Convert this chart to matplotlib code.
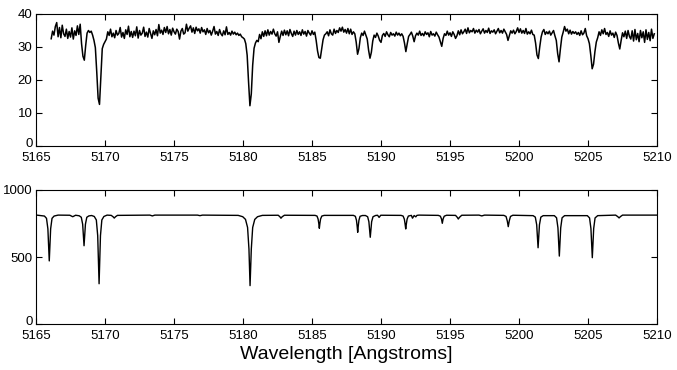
import numpy as np
import matplotlib
matplotlib.use("Agg")
import matplotlib.pyplot as plt
from matplotlib.transforms import ScaledTranslation

plt.rcParams['font.family'] = ['Liberation Sans', 'DejaVu Sans']

# ---- top panel: observed spectrum, sampled every 0.1 A from 5166.1 A ----
obs_start = 5166.1
obs_step = 0.1
obs_flux = [
    32.5, 34.8, 33.6, 36.2, 37.4, 33.1, 35.9, 32.8, 36.6, 34.0,   # 5166.1-5167.0
    33.2, 35.4, 32.6, 34.7, 33.0, 35.8, 32.4, 34.9, 33.5, 36.4,   # 5167.1-5168.0
    33.8, 36.9, 31.0, 27.2, 26.0, 30.5, 34.2, 35.0, 34.4, 34.8,   # 5168.1-5169.0
    33.6, 32.0, 29.8, 22.5, 14.5, 12.6, 21.0, 29.5, 30.8, 31.6,   # 5169.1-5170.0
    32.4, 34.6, 33.5, 35.4, 33.1, 34.2, 32.8, 35.0, 33.6, 34.1,   # 5170.1-5171.0
    35.9, 33.0, 34.4, 32.6, 35.2, 33.8, 36.3, 33.1, 34.7, 32.9,   # 5171.1-5172.0
    34.8, 33.4, 36.1, 32.7, 35.0, 33.6, 34.2, 36.0, 33.2, 34.5,   # 5172.1-5173.0
    33.0, 35.6, 34.1, 32.6, 34.9, 33.7, 35.3, 33.4, 36.8, 34.2,   # 5173.1-5174.0
    35.1, 33.8, 35.9, 34.4, 36.2, 34.0, 35.3, 33.6, 35.7, 34.6,   # 5174.1-5175.0
    33.9, 35.4, 34.7, 32.4, 34.8, 35.6, 33.9, 34.3, 36.9, 34.8,   # 5175.1-5176.0
    35.7, 36.4, 34.5, 35.8, 34.1, 36.0, 34.9, 35.5, 34.2, 35.9,   # 5176.1-5177.0
    34.6, 35.2, 33.8, 35.6, 34.3, 35.0, 33.6, 34.8, 36.2, 33.9,   # 5177.1-5178.0
    34.7, 33.5, 35.3, 34.0, 33.4, 34.9, 33.7, 36.1, 33.8, 34.4,   # 5178.1-5179.0
    33.6, 34.8, 33.9, 34.5, 33.7, 34.2, 33.5, 33.9, 33.1, 32.8,   # 5179.1-5180.0
    32.4, 31.0, 27.5, 19.5, 12.2, 15.8, 24.5, 29.6, 31.2, 32.0,   # 5180.1-5181.0
    31.6, 33.8, 32.5, 34.6, 33.2, 34.9, 33.4, 35.2, 33.6, 34.7,   # 5181.1-5182.0
    33.9, 35.4, 34.0, 33.3, 34.6, 31.4, 33.2, 34.8, 33.5, 35.1,   # 5182.1-5183.0
    33.7, 34.9, 33.4, 35.3, 34.1, 33.2, 34.8, 33.6, 35.0, 33.8,   # 5183.1-5184.0
    34.6, 33.5, 35.2, 33.9, 34.7, 33.3, 35.0, 34.2, 33.6, 34.9,   # 5184.1-5185.0
    33.8, 34.5, 32.0, 28.8, 26.8, 26.6, 29.5, 32.2, 33.6, 34.0,   # 5185.1-5186.0
    34.6, 33.4, 35.2, 34.0, 33.6, 35.4, 34.1, 35.0, 34.4, 35.8,   # 5186.1-5187.0
    34.8, 36.0, 34.5, 35.3, 34.2, 35.6, 34.0, 35.4, 33.8, 34.6,   # 5187.1-5188.0
    34.0, 31.5, 27.8, 29.5, 32.8, 34.2, 33.5, 34.8, 33.6, 32.4,   # 5188.1-5189.0
    29.0, 26.6, 28.4, 31.8, 33.6, 32.9, 34.2, 33.3, 32.0, 31.4,   # 5189.1-5190.0
    33.5, 34.1, 33.2, 34.6, 33.7, 33.1, 34.4, 33.6, 34.0, 33.3,   # 5190.1-5191.0
    34.5, 33.6, 34.2, 33.4, 34.0, 33.2, 31.2, 28.6, 31.0, 33.2,   # 5191.1-5192.0
    33.8, 34.5, 33.3, 31.6, 33.4, 34.2, 33.6, 34.8, 33.5, 34.1,   # 5192.1-5193.0
    33.4, 34.6, 33.8, 34.3, 33.1, 34.7, 33.6, 34.0, 33.3, 34.5,   # 5193.1-5194.0
    33.7, 33.0, 31.6, 30.2, 32.6, 34.0, 33.5, 34.8, 33.6, 34.3,   # 5194.1-5195.0
    33.2, 34.6, 33.8, 32.6, 33.4, 34.9, 33.7, 35.2, 34.0, 34.6,   # 5195.1-5196.0
    35.4, 34.1, 35.8, 34.3, 35.0, 34.6, 35.6, 34.2, 35.1, 34.5,   # 5196.1-5197.0
    35.3, 34.0, 34.8, 35.5, 34.2, 35.0, 34.4, 35.7, 34.1, 34.9,   # 5197.1-5198.0
    34.5, 35.2, 34.0, 34.8, 35.6, 34.3, 35.0, 34.2, 35.4, 34.6,   # 5198.1-5199.0
    33.8, 32.0, 33.5, 34.9, 34.2, 35.1, 34.0, 34.7, 35.8, 34.4,   # 5199.1-5200.0
    35.5, 34.2, 35.0, 34.1, 35.6, 33.9, 34.6, 34.0, 35.1, 33.8,   # 5200.1-5201.0
    33.6, 31.2, 27.6, 26.5, 30.0, 33.0, 34.6, 35.3, 33.8, 34.6,   # 5201.1-5202.0
    34.0, 34.8, 33.6, 34.3, 35.0, 33.4, 32.0, 28.0, 25.5, 29.5,   # 5202.1-5203.0
    33.0, 34.5, 36.2, 34.8, 35.4, 34.0, 35.1, 33.9, 34.7, 34.1,   # 5203.1-5204.0
    34.6, 33.8, 34.4, 33.5, 34.9, 33.7, 34.2, 35.6, 33.4, 32.5,   # 5204.1-5205.0
    31.0, 27.5, 23.4, 24.8, 28.6, 31.5, 32.8, 34.6, 33.5, 35.2,   # 5205.1-5206.0
    34.0, 35.6, 33.8, 34.4, 33.2, 34.9, 33.6, 34.2, 32.9, 34.5,   # 5206.1-5207.0
    33.5, 31.2, 29.4, 32.0, 34.3, 33.1, 34.8, 32.6, 35.0, 33.2,   # 5207.1-5208.0
    32.4, 34.9, 31.8, 35.3, 32.2, 34.1, 31.6, 35.0, 32.8, 34.6,   # 5208.1-5209.0
    31.4, 35.2, 32.3, 34.4, 31.9, 35.4, 32.6, 34.0,               # 5209.1-5209.8
]

# ---- bottom panel: model spectrum, key points (wavelength, flux) ----
model_wave = [
    5165.05, 5165.61, 5165.76, 5165.86, 5165.91, 5165.96, 5166.01, 5166.06, 5166.16, 5166.31,
    5166.60, 5167.45, 5167.66, 5167.87,
    5168.13, 5168.28, 5168.38, 5168.43, 5168.48, 5168.53, 5168.58, 5168.68, 5168.83,
    5169.03, 5169.22, 5169.37, 5169.47, 5169.52, 5169.57, 5169.62, 5169.67, 5169.77, 5169.92,
    5170.15, 5170.45, 5170.58, 5170.67, 5170.76, 5170.90,
    5173.25, 5173.43, 5173.61, 5176.70, 5176.88, 5177.06,
    5179.65, 5179.98, 5180.18, 5180.33, 5180.43, 5180.47, 5180.51, 5180.55, 5180.60, 5180.70,
    5180.85, 5181.05, 5181.40,
    5182.55, 5182.67, 5182.75, 5182.84, 5183.00,
    5185.22, 5185.36, 5185.44, 5185.49, 5185.53, 5185.57, 5185.62, 5185.71, 5185.88,
    5188.00, 5188.14, 5188.22, 5188.27, 5188.31, 5188.35, 5188.40, 5188.48, 5188.65,
    5188.87, 5189.03, 5189.12, 5189.17, 5189.22, 5189.27, 5189.32, 5189.42, 5189.60,
    5189.75, 5189.86, 5189.98,
    5191.45, 5191.60, 5191.69, 5191.74, 5191.79, 5191.84, 5191.89, 5191.98,
    5192.20, 5192.28, 5192.40, 5192.52, 5192.60, 5192.75,
    5194.15, 5194.30, 5194.38, 5194.44, 5194.50, 5194.58, 5194.75,
    5195.40, 5195.53, 5195.60, 5195.68, 5195.85,
    5197.10, 5197.30, 5197.50,
    5198.90, 5199.06, 5199.15, 5199.22, 5199.29, 5199.38, 5199.55,
    5201.02, 5201.18, 5201.28, 5201.33, 5201.38, 5201.43, 5201.48, 5201.58, 5201.75,
    5202.56, 5202.72, 5202.82, 5202.87, 5202.92, 5202.97, 5203.02, 5203.12, 5203.30,
    5204.95, 5205.11, 5205.21, 5205.26, 5205.31, 5205.36, 5205.41, 5205.51, 5205.70,
    5207.00, 5207.15, 5207.25, 5207.35, 5207.50,
    5210.00,
]
model_flux = [
    813, 806, 789, 711, 592, 472, 592, 711, 789, 806,
    813, 812, 801, 812,
    808, 797, 745, 665, 585, 665, 745, 797, 807,
    810, 803, 777, 660, 480, 302, 480, 660, 777, 803,
    813, 811, 801, 791, 801, 811,
    813, 807, 813, 813, 809, 813,
    811, 801, 781, 721, 560, 420, 288, 420, 560, 721,
    781, 801, 811,
    812, 801, 790, 801, 812,
    811, 806, 784, 751, 715, 751, 784, 806, 811,
    811, 804, 775, 731, 685, 731, 775, 804, 810,
    810, 801, 764, 706, 648, 706, 764, 801, 810,
    812, 796, 812,
    811, 806, 783, 750, 710, 750, 783, 806,
    811, 790, 810, 800, 811, 813,
    811, 805, 785, 752, 785, 805, 812,
    811, 796, 784, 796, 812,
    813, 807, 813,
    811, 803, 769, 727, 769, 803, 812,
    809, 798, 741, 655, 570, 655, 741, 798, 809,
    809, 793, 718, 610, 508, 610, 718, 793, 809,
    809, 792, 713, 603, 496, 603, 713, 792, 809,
    813, 802, 792, 802, 813,
    813,
]

x_ticks = [5165, 5170, 5175, 5180, 5185, 5190, 5195, 5200, 5205, 5210]
top_yticks = [0, 10, 20, 30, 40]
bottom_yticks = [0, 500, 1000]

obs_wave = obs_start + obs_step * np.arange(len(obs_flux))

fig = plt.figure(figsize=(6.77, 3.70), dpi=100)
ax1 = fig.add_axes([0.0532, 0.6054, 0.9173, 0.3568])
ax2 = fig.add_axes([0.0532, 0.1235, 0.9173, 0.3630])

ax1.plot(obs_wave, obs_flux, color='black', lw=1.1)
ax2.plot(model_wave, model_flux, color='black', lw=1.0)

for ax, yt in ((ax1, top_yticks), (ax2, bottom_yticks)):
    ax.set_xlim(x_ticks[0], x_ticks[-1])
    ax.set_ylim(yt[0], yt[-1])
    ax.set_xticks(x_ticks)
    ax.set_yticks(yt)
    ax.tick_params(direction='in', top=True, right=True, length=4,
                   width=0.8, labelsize=9.5)
    ax.tick_params(axis='x', pad=4.0)
    ax.tick_params(axis='y', pad=2.5)
    for s in ax.spines.values():
        s.set_linewidth(0.8)

ax2.set_xlabel('Wavelength [Angstroms]', fontsize=14, labelpad=3)

fig.canvas.draw()
# lift the "0" labels slightly so they do not collide with the first x label
for ax in (ax1, ax2):
    lab = ax.get_yticklabels()[0]
    lab.set_transform(lab.get_transform() +
                      ScaledTranslation(0, 2.5 / 72, fig.dpi_scale_trans))

fig.savefig('out.png', dpi=100)
